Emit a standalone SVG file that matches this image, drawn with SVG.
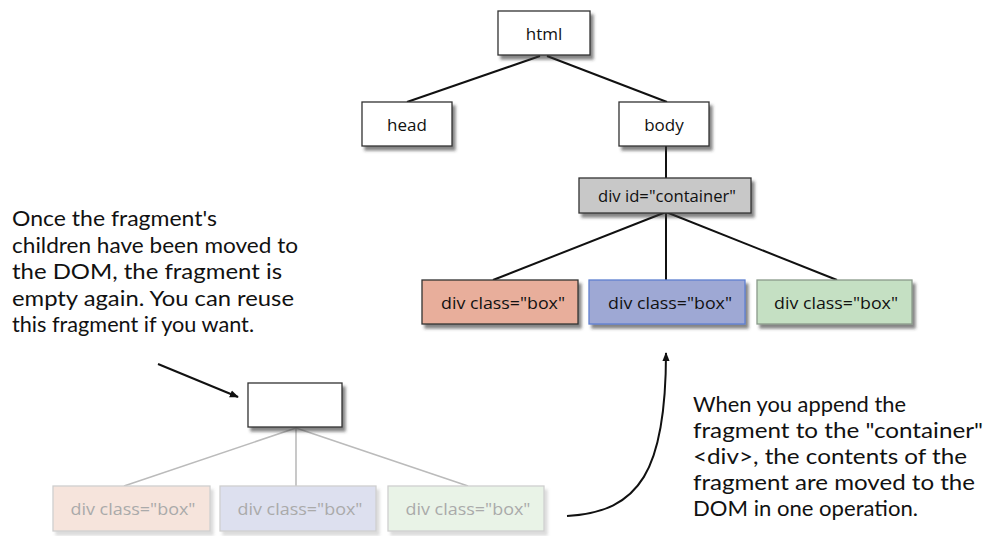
<svg xmlns="http://www.w3.org/2000/svg" width="987" height="536" viewBox="0 0 987 536">
  <defs>
    <filter id="shadow" x="-20%" y="-20%" width="150%" height="160%">
      <feDropShadow dx="3" dy="4" stdDeviation="1.8" flood-color="#333" flood-opacity="0.6"/>
    </filter>
    <filter id="shadow-soft" x="-20%" y="-20%" width="150%" height="160%">
      <feDropShadow dx="3" dy="4" stdDeviation="1.8" flood-color="#999" flood-opacity="0.35"/>
    </filter>
    <marker id="arrow" viewBox="0 0 10 10" refX="9" refY="5" markerWidth="9" markerHeight="9" orient="auto-start-reverse" markerUnits="userSpaceOnUse">
      <path d="M0,1 L10,5 L0,9 Z" fill="#111"/>
    </marker>
  </defs>
  <style>
    .node { stroke: #333; stroke-width: 1.3; filter: url(#shadow); }
    .ghost { stroke: #cfcfcf; stroke-width: 1.3; filter: url(#shadow-soft); }
    .label { font-family: "Open Sans", "Noto Sans", sans-serif; font-size: 17px; fill: #111; text-anchor: middle; dominant-baseline: central; }
    .ghost-label { font-family: "Open Sans", "Noto Sans", sans-serif; font-size: 17px; fill: #aaa; text-anchor: middle; dominant-baseline: central; }
    .edge { stroke: #111; stroke-width: 2; fill: none; }
    .ghost-edge { stroke: #bbb; stroke-width: 1.6; fill: none; }
    .note { font-family: "Liberation Sans Narrow", "Lato", sans-serif; font-size: 21px; fill: #111; }
    .pointer { stroke: #111; stroke-width: 2; fill: none; marker-end: url(#arrow); }
  </style>

  <!-- tree edges -->
  <g id="connectors">
    <line class="edge" x1="540" y1="56" x2="407" y2="102"/>
    <line class="edge" x1="547" y1="56" x2="667" y2="102"/>
    <line class="edge" x1="666" y1="146" x2="666" y2="178"/>
    <line class="edge" x1="666" y1="212" x2="493" y2="280"/>
    <line class="edge" x1="666" y1="212" x2="666" y2="280"/>
    <line class="edge" x1="666" y1="212" x2="837" y2="280"/>
    <line class="ghost-edge" x1="296" y1="428" x2="124" y2="486"/>
    <line class="ghost-edge" x1="296" y1="428" x2="296" y2="486"/>
    <line class="ghost-edge" x1="296" y1="428" x2="468" y2="486"/>
    <line class="pointer" x1="158" y1="364" x2="238" y2="397"/>
    <path class="pointer" d="M567,516 C640,512 666,470 666,353"/>
  </g>

  <g id="html">
    <rect class="node" x="498" y="11" width="92" height="44" fill="#fff"/>
    <text class="label" x="544" y="33">html</text>
  </g>
  <g id="head">
    <rect class="node" x="362" y="102" width="90" height="44" fill="#fff"/>
    <text class="label" x="407" y="124">head</text>
  </g>
  <g id="body">
    <rect class="node" x="619" y="102" width="90" height="44" fill="#fff"/>
    <text class="label" x="664" y="124">body</text>
  </g>
  <g id="container">
    <rect class="node" x="579" y="178" width="172" height="35" fill="#c8c8c8"/>
    <text class="label" x="667" y="195.5" textLength="138" lengthAdjust="spacingAndGlyphs">div id="container"</text>
  </g>
  <g id="box-red">
    <rect class="node" x="422" y="280" width="156" height="44" fill="#e8ae9b"/>
    <text class="label" x="503" y="302" textLength="124" lengthAdjust="spacingAndGlyphs">div class="box"</text>
  </g>
  <g id="box-blue">
    <rect class="node" x="589" y="280" width="156" height="44" fill="#9ea8d4" style="stroke:#5e7fd0"/>
    <text class="label" x="670" y="302" textLength="124" lengthAdjust="spacingAndGlyphs">div class="box"</text>
  </g>
  <g id="box-green">
    <rect class="node" x="757" y="280" width="155" height="44" fill="#c5e0c3" style="stroke:#8a9a8a"/>
    <text class="label" x="836" y="302" textLength="124" lengthAdjust="spacingAndGlyphs">div class="box"</text>
  </g>

  <g id="fragment">
    <rect class="node" x="248" y="383" width="94" height="44" fill="#fff"/>
  </g>
  <g id="ghost-red">
    <rect class="ghost" x="53" y="486" width="157" height="45" fill="#f6e4dc"/>
    <text class="ghost-label" x="133" y="508.5" textLength="125" lengthAdjust="spacingAndGlyphs">div class="box"</text>
  </g>
  <g id="ghost-blue">
    <rect class="ghost" x="220" y="486" width="156" height="45" fill="#dde0ef"/>
    <text class="ghost-label" x="300" y="508.5" textLength="125" lengthAdjust="spacingAndGlyphs">div class="box"</text>
  </g>
  <g id="ghost-green">
    <rect class="ghost" x="388" y="486" width="156" height="45" fill="#e9f3e7"/>
    <text class="ghost-label" x="468" y="508.5" textLength="125" lengthAdjust="spacingAndGlyphs">div class="box"</text>
  </g>

  <g id="note-left">
    <text class="note" x="12" y="226" textLength="205" lengthAdjust="spacingAndGlyphs">Once the fragment's</text>
    <text class="note" x="12" y="253" textLength="286" lengthAdjust="spacingAndGlyphs">children have been moved to</text>
    <text class="note" x="12" y="279" textLength="270" lengthAdjust="spacingAndGlyphs">the DOM, the fragment is</text>
    <text class="note" x="12" y="306" textLength="282" lengthAdjust="spacingAndGlyphs">empty again. You can reuse</text>
    <text class="note" x="12" y="332" textLength="242" lengthAdjust="spacingAndGlyphs">this fragment if you want.</text>
  </g>
  <g id="note-right">
    <text class="note" x="693" y="412" textLength="213" lengthAdjust="spacingAndGlyphs">When you append the</text>
    <text class="note" x="693" y="438" textLength="290" lengthAdjust="spacingAndGlyphs">fragment to the "container"</text>
    <text class="note" x="693" y="464" textLength="274" lengthAdjust="spacingAndGlyphs">&lt;div&gt;, the contents of the</text>
    <text class="note" x="693" y="490" textLength="282" lengthAdjust="spacingAndGlyphs">fragment are moved to the</text>
    <text class="note" x="693" y="516" textLength="225" lengthAdjust="spacingAndGlyphs">DOM in one operation.</text>
  </g>
</svg>
